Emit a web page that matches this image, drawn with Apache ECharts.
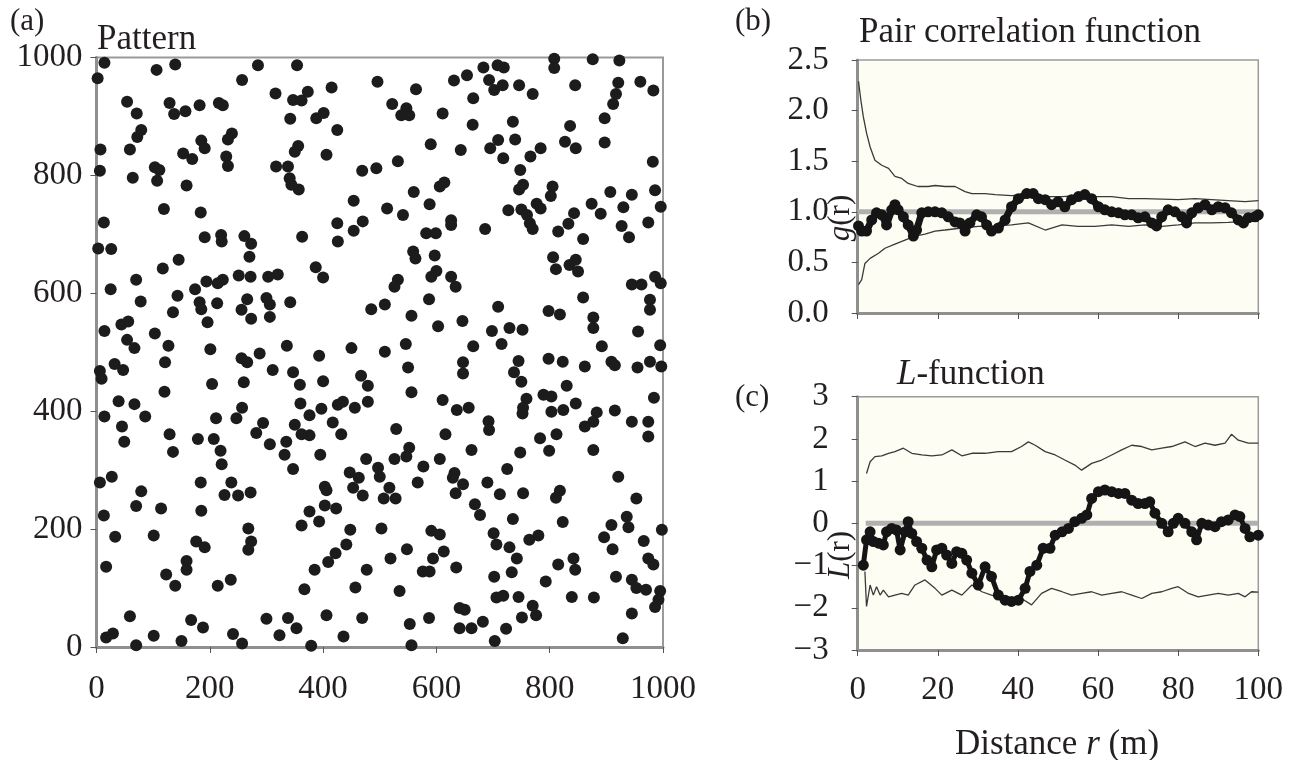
<!DOCTYPE html>
<html><head><meta charset="utf-8">
<script src="https://cdn.jsdelivr.net/npm/echarts@6/dist/echarts.min.js"></script>
<style>html,body{margin:0;padding:0;background:#fff}#c{width:1291px;height:760px}</style>
</head><body><div id="c"></div>
<script>
// ---- Panel (a): point pattern (x, y in m) ----
const patternXY = [
[14,991],[106,979],[139,988],[285,987],[2,965],[257,962],[316,939],[54,925],[71,905],[129,923],[137,904],[157,909],[182,919],[216,923],[223,919],[79,877],[72,865],[239,871],[232,861],[185,859],[191,846],[7,844],[59,844],[153,837],[169,828],[229,832],[232,816],[6,808],[103,814],[111,809],[107,791],[64,796],[159,783],[317,815],[119,743],[184,737],[13,720],[191,695],[220,699],[221,688],[261,697],[273,684],
[354,987],[496,959],[564,946],[631,961],[654,970],[373,942],[347,928],[362,927],[415,949],[342,896],[388,897],[401,906],[425,877],[522,921],[547,914],[538,902],[552,902],[611,905],[356,850],[350,840],[406,835],[590,853],[643,843],[532,824],[338,815],[469,808],[494,812],[341,795],[344,784],[357,776],[560,772],[606,781],[614,788],[454,757],[588,751],[513,744],[541,733],[425,719],[470,722],[454,706],[626,724],[626,716],[582,702],[599,702],[363,696],[426,688],
[808,998],[808,982],[876,997],[923,995],[683,983],[708,987],[719,983],[693,962],[702,945],[717,953],[746,953],[770,938],[845,953],[921,957],[917,938],[912,921],[960,959],[983,944],[665,931],[897,897],[664,886],[735,891],[836,884],[709,860],[695,846],[739,861],[784,846],[827,857],[846,846],[897,856],[718,829],[766,832],[982,823],[748,809],[753,784],[746,776],[805,781],[802,765],[907,772],[945,767],[986,775],[996,747],[874,752],[890,735],[930,746],[727,741],[750,742],[760,733],[777,752],[784,744],[765,719],[770,709],[843,736],[833,718],[815,705],[686,709],[859,692],[927,714],[940,695],[974,720],
[3,676],[26,675],[270,662],[145,657],[117,642],[70,623],[25,607],[251,630],[272,628],[303,628],[320,632],[194,620],[223,623],[214,617],[174,607],[143,596],[78,586],[182,585],[185,573],[213,583],[266,590],[256,572],[300,592],[306,581],[135,568],[273,557],[306,560],[196,551],[44,547],[56,552],[14,536],[103,532],[54,521],[67,507],[127,511],[201,505],[256,490],[266,483],[288,498],[121,483],[32,480],[47,470],[6,468],[9,455],[311,470],[204,446],[260,449],[120,433],[39,417],[67,412],[257,406],[14,391],[86,391],[211,388],[247,388],[294,380],[282,363],[45,374],[129,361],[49,348],[179,353],[207,353],[306,344],
[559,671],[563,659],[597,664],[387,644],[400,627],[532,623],[526,611],[591,628],[600,638],[626,628],[634,611],[342,585],[485,573],[509,581],[587,590],[556,562],[603,544],[646,553],[336,511],[393,494],[450,507],[509,501],[546,514],[550,474],[647,483],[647,464],[347,466],[359,445],[400,451],[467,460],[479,443],[556,432],[360,413],[397,404],[376,393],[426,411],[435,416],[456,406],[479,416],[611,419],[636,402],[657,406],[417,381],[350,377],[362,361],[376,359],[432,361],[529,370],[616,361],[335,348],
[806,661],[811,641],[835,648],[846,657],[850,637],[986,628],[996,617],[945,615],[962,615],[859,593],[977,589],[977,572],[709,577],[798,570],[818,564],[877,559],[877,541],[956,535],[698,536],[729,541],[752,538],[715,514],[665,510],[892,510],[995,512],[745,485],[737,466],[750,450],[798,489],[823,484],[862,476],[909,484],[915,478],[955,474],[977,484],[997,476],[830,443],[789,428],[803,425],[759,421],[753,406],[752,396],[803,399],[824,402],[846,413],[883,398],[877,382],[862,374],[915,401],[984,423],[945,382],[974,382],[974,357],[692,383],[693,368],[783,354],[812,361],
[135,331],[219,333],[221,310],[6,279],[27,289],[79,264],[184,279],[238,279],[226,258],[250,257],[272,262],[70,239],[114,235],[185,231],[13,223],[33,187],[101,189],[176,179],[191,169],[268,201],[273,179],[268,165],[17,136],[159,146],[159,131],[123,123],[139,104],[214,104],[237,114],[59,52],[167,46],[188,33],[300,48],[17,16],[29,23],[70,3],[101,19],[150,10],[241,22],[257,6],[323,20],
[332,326],[395,326],[476,319],[347,302],[526,319],[547,323],[552,338],[606,319],[577,306],[447,296],[463,287],[497,304],[500,289],[632,295],[629,287],[567,279],[647,276],[634,261],[403,272],[406,266],[453,270],[470,257],[517,270],[507,252],[528,252],[403,240],[423,235],[376,230],[393,213],[362,206],[448,199],[503,201],[591,197],[606,191],[441,174],[422,159],[409,144],[385,131],[477,131],[519,150],[548,166],[613,162],[594,150],[576,128],[588,128],[635,135],[367,98],[457,101],[535,95],[406,54],[469,49],[338,49],[353,32],[553,39],[587,49],[641,66],[650,63],[641,32],[379,2],[436,18],[556,3],
[662,334],[748,330],[799,333],[877,334],[725,302],[690,279],[712,259],[753,261],[818,265],[811,253],[921,289],[953,252],[668,242],[677,224],[735,217],[823,212],[936,221],[939,203],[909,207],[998,199],[701,193],[706,174],[729,169],[742,150],[764,182],[780,189],[896,186],[911,166],[966,180],[974,150],[983,140],[842,150],[845,131],[815,140],[733,127],[702,119],[793,111],[917,119],[945,114],[953,100],[970,97],[995,95],[992,80],[986,68],[706,84],[718,87],[745,85],[770,70],[776,54],[751,50],[839,85],[878,84],[945,57],[662,32],[682,43],[723,31],[703,10],[929,15]
];
const patternTicks = [0, 200, 400, 600, 800, 1000];

// ---- Panel (b): pair correlation function g(r) ----
const gObsR = [0.2,1,2.2,3.5,4.7,6,7.2,8.5,9.3,10.1,11.4,12.6,13.9,14.7,16,17.6,19.3,21,22.6,24.3,25.5,26.8,28,29.7,30.9,32.2,33.4,35.1,36.8,38.4,40.1,42.2,43.8,45.1,46.8,48.4,50,51.7,53.4,55.1,56.7,58.4,60.1,61.7,63.4,65.1,66.7,68.4,70,71.7,73.4,74.6,75.9,77.5,79.2,80.9,82.1,83.4,85,86.7,88.4,90,91.7,93.3,95,96.3,97.5,99.2,100];
const gObsV = [0.86,0.81,0.81,0.92,0.99,0.97,0.87,1.02,1.07,1.02,0.95,0.87,0.76,0.82,0.99,1.0,1.0,0.99,0.95,0.9,0.89,0.81,0.89,0.97,0.95,0.87,0.81,0.84,0.92,1.05,1.13,1.18,1.18,1.13,1.12,1.07,1.1,1.05,1.12,1.15,1.17,1.13,1.05,1.02,1.0,0.99,0.97,0.97,0.94,0.95,0.89,0.86,0.95,1.02,1.0,0.95,0.89,0.99,1.04,1.07,1.02,1.05,1.04,0.99,0.92,0.89,0.94,0.95,0.97];
const gUpR = [0.2,0.8,1.4,2.2,3.1,4.3,6,7.7,9.3,11,12.6,15,17.6,19.3,21.8,24.3,26.8,28.5,31.8,34.3,38.4,42.6,46.8,51,55,59.2,63.4,67.6,71.7,75.9,80,84.2,88.4,92.5,96.7,100];
const gUpV = [2.29,2.1,1.94,1.78,1.64,1.51,1.46,1.43,1.35,1.33,1.28,1.25,1.25,1.26,1.25,1.25,1.2,1.18,1.18,1.17,1.16,1.17,1.15,1.15,1.16,1.15,1.15,1.13,1.13,1.125,1.12,1.13,1.12,1.11,1.1,1.11];
const gLoR = [0.2,1,1.8,3.1,5.2,6.8,9.3,11.8,14.3,16.8,19.3,21.8,26,30.1,34.3,38.4,42.6,46.8,51,55,59.2,63.4,67.6,71.7,75.9,80,84.2,88.4,92.5,96.7,100];
const gLoV = [0.28,0.33,0.49,0.54,0.59,0.64,0.68,0.72,0.76,0.78,0.81,0.82,0.84,0.855,0.86,0.87,0.89,0.82,0.87,0.855,0.855,0.87,0.855,0.87,0.855,0.87,0.89,0.89,0.895,0.905,0.905];
const gTheoR = [0, 100];
const gTheoV = [1, 1];
const gTicks = [0, 0.5, 1, 1.5, 2, 2.5];

// ---- Panel (c): L-function L(r) ----
const LObsR = [1.4,2.2,3.1,3.9,5.2,6.4,7.2,8.5,9.7,10.6,11.8,12.6,13.5,14.7,16,17.3,18.5,19.7,21,22.2,23.5,24.7,26,27.2,28.5,30.1,31.8,33.4,35.1,36.8,38.4,40.1,41.8,43,44.7,46.3,48,49.3,51,52.6,54.2,55.9,57.2,58.4,60.1,61.7,63.4,65.1,66.7,68.4,70,71.7,72.9,74.2,75.9,77.5,78.8,80,81.7,83.4,84.6,85.9,87.5,89.2,90.8,92.5,94.2,95.4,96.7,97.9,100];
const LObsV = [-0.99,-0.39,-0.2,-0.43,-0.47,-0.51,-0.2,-0.12,-0.16,-0.63,-0.2,0.04,-0.24,-0.43,-0.59,-0.87,-1.03,-0.63,-0.59,-0.75,-0.95,-0.67,-0.71,-0.87,-1.18,-1.46,-1.03,-1.26,-1.7,-1.82,-1.85,-1.82,-1.54,-1.14,-0.99,-0.59,-0.59,-0.28,-0.2,-0.12,0.04,0.12,0.2,0.59,0.75,0.79,0.75,0.71,0.71,0.55,0.47,0.47,0.51,0.24,0,-0.2,0,0.12,0,-0.2,-0.39,0,-0.04,-0.08,0.04,0.08,0.2,0.16,-0.12,-0.32,-0.28];
const LUpR = [2.2,3.1,4.3,6,7.7,9.3,11.4,13.5,16,18.5,21,23.5,26,28.5,31.8,35.1,38.4,40.9,42.6,44.3,46.8,49.3,51.7,54.2,55.9,58.4,60.9,63.4,65.9,68.4,70.9,73.4,75.9,78.4,81.7,84.2,86.7,89.2,91.7,93.3,95,97.5,100];
const LUpV = [1.18,1.46,1.58,1.6,1.66,1.7,1.78,1.66,1.62,1.6,1.62,1.74,1.6,1.66,1.66,1.7,1.7,1.82,1.93,1.85,1.7,1.62,1.5,1.38,1.26,1.42,1.5,1.62,1.74,1.85,1.82,1.74,1.78,1.82,1.93,1.82,1.9,1.85,1.9,2.11,1.97,1.9,1.9];
const LLoR = [1.8,2.2,3.1,3.9,4.7,5.6,6.4,7.7,9.3,11,12.6,14.3,16.8,19.3,21,23.5,26,28.5,31,33.4,35.9,38.4,40.9,43.4,45.9,48.4,51,53.4,55.9,58.4,60.9,63.4,65.9,68.4,70.9,73.4,75.9,78.4,80,82.6,85,87.5,90,92.5,95,96.7,98.3,100];
const LLoV = [-1.14,-1.97,-1.46,-1.7,-1.5,-1.7,-1.58,-1.74,-1.7,-1.66,-1.7,-1.46,-1.34,-1.54,-1.7,-1.58,-1.7,-1.46,-1.62,-1.7,-1.78,-1.82,-1.78,-1.93,-1.66,-1.54,-1.62,-1.7,-1.66,-1.62,-1.7,-1.66,-1.62,-1.7,-1.78,-1.66,-1.62,-1.54,-1.5,-1.66,-1.74,-1.7,-1.66,-1.7,-1.66,-1.74,-1.62,-1.63];
const LTheoR = [2, 100];
const LTheoV = [0, 0];
const LTicks = [-3, -2, -1, 0, 1, 2, 3];
const rTicks = [0, 20, 40, 60, 80, 100];

// ---- drawing ----
const FONT = "'Liberation Serif','DejaVu Serif',serif";
const INK = '#231f20';
const AX = '#8f8f8f';
const TICK_FS = 33;
const TITLE_FS = 35;
const YNAME_FS = 31;
const zip = (a, b) => a.map((v, i) => [v, b[i]]);
const plain = v => String(v);

function axisCommon(extra) {
  return Object.assign({
    type: 'value',
    axisLine: { show: true, onZero: false, lineStyle: { color: AX, width: 3 } },
    axisTick: { show: true, inside: false, length: 6, lineStyle: { color: '#555', width: 1 } },
    splitLine: { show: false }
  }, extra);
}
const lab = (margin, formatter) => ({ color: INK, fontFamily: FONT, fontSize: TICK_FS, margin: margin, formatter: formatter });
const rich = { i: { fontStyle: 'italic', fontFamily: FONT, fontSize: TITLE_FS, fill: INK } };
const richY = { i: { fontStyle: 'italic', fontFamily: FONT, fontSize: YNAME_FS, fill: INK } };

const chart = echarts.init(document.getElementById('c'), null, { renderer: 'canvas' });
chart.setOption({
  animation: false,
  backgroundColor: '#fff',
  grid: [
    { left: 96.5, top: 57.5, width: 566.5, height: 589.5, show: true, borderColor: '#9a9a9a', borderWidth: 2, backgroundColor: '#fff' },
    { left: 857.7, top: 60, width: 400.6, height: 253, show: true, borderColor: '#9a9a9a', borderWidth: 1.5, backgroundColor: '#fdfdf3' },
    { left: 857.7, top: 396.7, width: 400.6, height: 253.3, show: true, borderColor: '#9a9a9a', borderWidth: 1.5, backgroundColor: '#fdfdf3' }
  ],
  xAxis: [
    axisCommon({ gridIndex: 0, min: patternTicks[0], max: patternTicks[patternTicks.length - 1], interval: 200, axisLabel: lab(26, plain) }),
    axisCommon({ gridIndex: 1, min: rTicks[0], max: rTicks[rTicks.length - 1], interval: 20, axisLabel: { show: false } }),
    axisCommon({ gridIndex: 2, min: rTicks[0], max: rTicks[rTicks.length - 1], interval: 20, axisLabel: lab(24, plain) })
  ],
  yAxis: [
    axisCommon({ gridIndex: 0, min: patternTicks[0], max: patternTicks[patternTicks.length - 1], interval: 200, axisLabel: lab(14, plain) }),
    axisCommon({ gridIndex: 1, min: gTicks[0], max: gTicks[gTicks.length - 1], interval: 0.5, axisLabel: lab(29, v => v.toFixed(1)) }),
    axisCommon({ gridIndex: 2, min: LTicks[0], max: LTicks[LTicks.length - 1], interval: 1,
      axisLabel: lab(29, v => (v < 0 ? '\u2212' + Math.abs(v) : '' + v)) })
  ],
  series: [
    { type: 'scatter', xAxisIndex: 0, yAxisIndex: 0, data: patternXY, symbol: 'circle', symbolSize: 12,
      itemStyle: { color: '#1c1c1c', opacity: 1 }, clip: false },
    { type: 'line', xAxisIndex: 1, yAxisIndex: 1, data: zip(gTheoR, gTheoV), showSymbol: false,
      lineStyle: { color: '#b0b0b0', width: 5 }, z: 2 },
    { type: 'line', xAxisIndex: 1, yAxisIndex: 1, data: zip(gUpR, gUpV), showSymbol: false,
      lineStyle: { color: '#3a3a3a', width: 1.3 }, z: 3 },
    { type: 'line', xAxisIndex: 1, yAxisIndex: 1, data: zip(gLoR, gLoV), showSymbol: false,
      lineStyle: { color: '#3a3a3a', width: 1.3 }, z: 3 },
    { type: 'line', xAxisIndex: 1, yAxisIndex: 1, data: zip(gObsR, gObsV), symbol: 'circle', symbolSize: 11, showAllSymbol: true,
      itemStyle: { color: '#151515', opacity: 1, borderWidth: 0 }, lineStyle: { color: '#151515', width: 7 }, z: 4 },
    { type: 'line', xAxisIndex: 2, yAxisIndex: 2, data: zip(LTheoR, LTheoV), showSymbol: false,
      lineStyle: { color: '#b0b0b0', width: 5 }, z: 2 },
    { type: 'line', xAxisIndex: 2, yAxisIndex: 2, data: zip(LUpR, LUpV), showSymbol: false,
      lineStyle: { color: '#3a3a3a', width: 1.3 }, z: 3 },
    { type: 'line', xAxisIndex: 2, yAxisIndex: 2, data: zip(LLoR, LLoV), showSymbol: false,
      lineStyle: { color: '#3a3a3a', width: 1.3 }, z: 3 },
    { type: 'line', xAxisIndex: 2, yAxisIndex: 2, data: zip(LObsR, LObsV), symbol: 'circle', symbolSize: 11, showAllSymbol: true,
      itemStyle: { color: '#151515', opacity: 1, borderWidth: 0 }, lineStyle: { color: '#151515', width: 5 }, z: 4 }
  ],
  graphic: [
    { type: 'text', x: 10, y: 22, style: { text: '(a)', font: '31px ' + FONT, fill: INK, verticalAlign: 'middle' } },
    { type: 'text', x: 97, y: 40, style: { text: 'Pattern', font: TITLE_FS + 'px ' + FONT, fill: INK, verticalAlign: 'middle' } },
    { type: 'text', x: 735, y: 22, style: { text: '(b)', font: '31px ' + FONT, fill: INK, verticalAlign: 'middle' } },
    { type: 'text', x: 1030, y: 33, style: { text: 'Pair correlation function', font: TITLE_FS + 'px ' + FONT, fill: INK, align: 'center', verticalAlign: 'middle' } },
    { type: 'text', x: 735, y: 398, style: { text: '(c)', font: '31px ' + FONT, fill: INK, verticalAlign: 'middle' } },
    { type: 'text', x: 897, y: 375, style: { text: '{i|L}-function', font: TITLE_FS + 'px ' + FONT, fill: INK, verticalAlign: 'middle', rich: rich } },
    { type: 'text', x: 1057, y: 745, style: { text: 'Distance {i|r} (m)', font: TITLE_FS + 'px ' + FONT, fill: INK, align: 'center', verticalAlign: 'middle', rich: rich } },
    { type: 'text', x: 841, y: 218, rotation: Math.PI / 2, style: { text: '{i|g}(r)', font: YNAME_FS + 'px ' + FONT, fill: INK, align: 'center', verticalAlign: 'middle', rich: richY } },
    { type: 'text', x: 841, y: 555, rotation: Math.PI / 2, style: { text: '{i|L}(r)', font: YNAME_FS + 'px ' + FONT, fill: INK, align: 'center', verticalAlign: 'middle', rich: richY } }
  ]
});
</script></body></html>
